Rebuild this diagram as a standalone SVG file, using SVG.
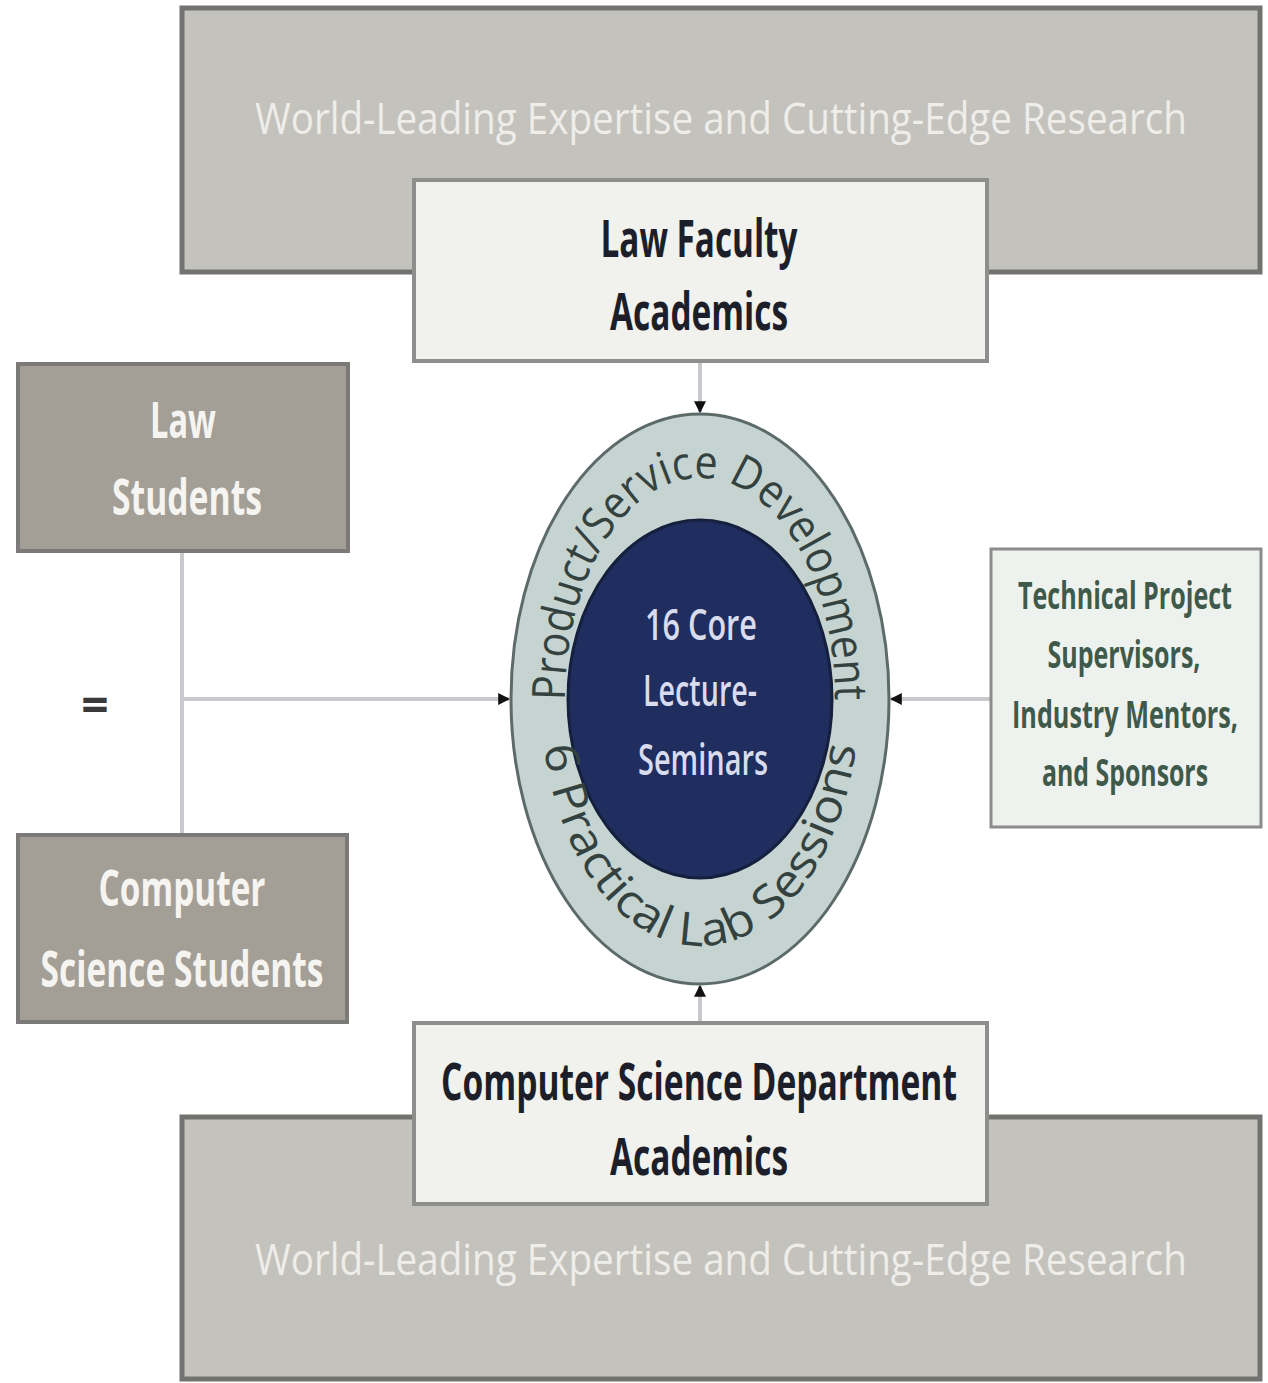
<svg xmlns="http://www.w3.org/2000/svg" width="1268" height="1383" viewBox="0 0 1268 1383">
<defs>
<style>
.big{fill:#c4c2bc;stroke:#727270;stroke-width:5}
.white{fill:#f1f1ed;stroke:#8e8e8c;stroke-width:4}
.stud{fill:#a39e96;stroke:#7c7a78;stroke-width:4}
.tech{fill:#eef2ee;stroke:#8c8c8c;stroke-width:3}
.t{font-family:"Open Sans","Noto Sans",sans-serif;text-anchor:middle}
.wl{font-size:44px;fill:#eeede9}
.dk{font-size:52px;font-weight:700;fill:#1c1f2a}
.st{font-size:50px;font-weight:700;fill:#f6f4f0}
.tc{font-size:38px;font-weight:700;fill:#3f5a4a}
.core{font-size:44px;font-weight:600;fill:#d9dbef}
.ring{font-family:"Open Sans","Noto Sans",sans-serif;font-size:46px;font-weight:500;fill:#34423f}
.conn{stroke:#c9c9cd;stroke-width:4;fill:none}
</style>
<marker id="ah" viewBox="0 0 10 10" refX="9" refY="5" markerWidth="3" markerHeight="3" orient="auto" markerUnits="strokeWidth">
<path d="M0,0 L10,5 L0,10 z" fill="#111"/>
</marker>
<path id="topArc" d="M 565 699 A 135 221 0 0 1 835 699"/>
<path id="botArc" d="M 541 699 A 159 247 0 0 0 859 699"/>
</defs>

<g id="top-research">
<rect class="big" x="182" y="8" width="1078" height="264"/>
<text class="t wl" x="721" y="134" textLength="932" lengthAdjust="spacingAndGlyphs">World-Leading Expertise and Cutting-Edge Research</text>
</g>

<g id="bottom-research">
<rect class="big" x="182" y="1117" width="1078" height="262"/>
<text class="t wl" x="721" y="1275" textLength="932" lengthAdjust="spacingAndGlyphs">World-Leading Expertise and Cutting-Edge Research</text>
</g>

<g id="connectors">
<line class="conn" x1="700" y1="362" x2="700" y2="412" marker-end="url(#ah)"/>
<line class="conn" x1="182" y1="552" x2="182" y2="833"/>
<line class="conn" x1="182" y1="699" x2="509" y2="699" marker-end="url(#ah)"/>
<line class="conn" x1="990" y1="699" x2="891" y2="699" marker-end="url(#ah)"/>
<line class="conn" x1="700" y1="1022" x2="700" y2="986" marker-end="url(#ah)"/>
</g>

<g id="law-faculty">
<rect class="white" x="414" y="180" width="573" height="181"/>
<text class="t dk" x="699" y="257" textLength="197" lengthAdjust="spacingAndGlyphs">Law Faculty</text>
<text class="t dk" x="699" y="330" textLength="178" lengthAdjust="spacingAndGlyphs">Academics</text>
</g>

<g id="cs-dept">
<rect class="white" x="414" y="1023" width="573" height="181"/>
<text class="t dk" x="699" y="1100" textLength="516" lengthAdjust="spacingAndGlyphs">Computer Science Department</text>
<text class="t dk" x="699" y="1175" textLength="178" lengthAdjust="spacingAndGlyphs">Academics</text>
</g>

<g id="law-students">
<rect class="stud" x="18" y="364" width="330" height="187"/>
<text class="t st" x="183" y="438" textLength="66" lengthAdjust="spacingAndGlyphs">Law</text>
<text class="t st" x="187" y="515" textLength="150" lengthAdjust="spacingAndGlyphs">Students</text>
</g>

<g id="cs-students">
<rect class="stud" x="18" y="835" width="329" height="187"/>
<text class="t st" x="182" y="906" textLength="167" lengthAdjust="spacingAndGlyphs">Computer</text>
<text class="t st" x="182" y="987" textLength="283" lengthAdjust="spacingAndGlyphs">Science Students</text>
</g>

<g id="equals">
<text class="t" x="95" y="722" font-size="48" font-weight="700" fill="#3a3a3a">=</text>
</g>

<g id="tech-supervisors">
<rect class="tech" x="991" y="549" width="270" height="278"/>
<text class="t tc" x="1125" y="609" textLength="214" lengthAdjust="spacingAndGlyphs">Technical Project</text>
<text class="t tc" x="1124" y="668" textLength="153" lengthAdjust="spacingAndGlyphs">Supervisors,</text>
<text class="t tc" x="1125" y="728" textLength="226" lengthAdjust="spacingAndGlyphs">Industry Mentors,</text>
<text class="t tc" x="1125" y="786" textLength="166" lengthAdjust="spacingAndGlyphs">and Sponsors</text>
</g>

<g id="core-ellipse">
<ellipse cx="700" cy="699" rx="189" ry="285" fill="#c6d4d1" stroke="#5c6b69" stroke-width="3"/>
<ellipse cx="700" cy="699" rx="132" ry="179" fill="#1f2e5e" stroke="#15203f" stroke-width="3"/>
<text class="ring"><textPath href="#topArc" startOffset="50%" text-anchor="middle" textLength="570" lengthAdjust="spacingAndGlyphs">Product/Service Development</textPath></text>
<text class="ring"><textPath href="#botArc" startOffset="50%" text-anchor="middle" textLength="550" lengthAdjust="spacingAndGlyphs">6 Practical Lab Sessions</textPath></text>
<text class="t core" x="701" y="640" textLength="112" lengthAdjust="spacingAndGlyphs">16 Core</text>
<text class="t core" x="700" y="706" textLength="114" lengthAdjust="spacingAndGlyphs">Lecture-</text>
<text class="t core" x="703" y="775" textLength="130" lengthAdjust="spacingAndGlyphs">Seminars</text>
</g>
</svg>
